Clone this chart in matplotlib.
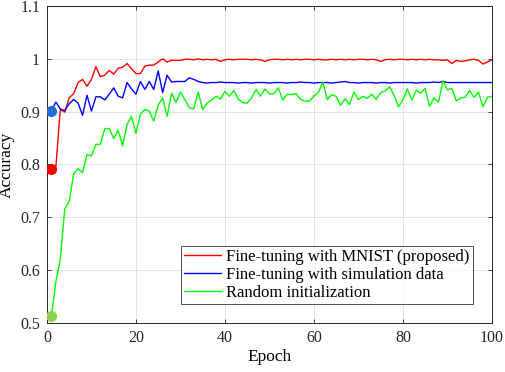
import numpy as np
import matplotlib
matplotlib.use("Agg")
import matplotlib.pyplot as plt

plt.rcParams['font.family'] = ['Liberation Serif', 'DejaVu Serif']

# accuracy per epoch
epochs = np.arange(1, 101)

acc_mnist = [
    0.792, 0.795, 0.904, 0.899, 0.926, 0.934, 0.955, 0.961, 0.948, 0.961,
    0.985, 0.966, 0.969, 0.978, 0.971, 0.982, 0.984, 0.991, 0.981, 0.972,
    0.972, 0.986, 0.988, 0.988, 0.994, 1.000, 0.994, 0.997, 0.997, 0.997,
    0.999, 0.999, 0.998, 1.000, 0.998, 0.999, 0.998, 0.999, 0.995, 0.998,
    0.999, 0.998, 0.999, 0.999, 0.999, 0.998, 0.999, 0.998, 0.995, 0.998,
    0.999, 0.999, 0.998, 0.999, 0.998, 0.999, 0.998, 0.999, 0.999, 0.998,
    0.999, 0.998, 0.998, 0.999, 0.998, 0.999, 0.998, 0.999, 0.998, 0.999,
    0.999, 0.998, 0.999, 0.998, 0.995, 0.998, 0.999, 0.998, 0.999, 0.999,
    0.998, 0.999, 0.998, 0.999, 0.998, 0.999, 0.998, 0.998, 0.997, 0.998,
    0.991, 0.997, 0.995, 0.996, 0.998, 0.999, 0.997, 0.990, 0.994, 0.998,
]

acc_sim = [
    0.902, 0.918, 0.905, 0.902, 0.915, 0.923, 0.916, 0.893, 0.931, 0.901,
    0.928, 0.928, 0.922, 0.933, 0.945, 0.929, 0.926, 0.955, 0.943, 0.933,
    0.957, 0.942, 0.957, 0.942, 0.977, 0.936, 0.969, 0.956, 0.957, 0.957,
    0.957, 0.964, 0.961, 0.957, 0.955, 0.954, 0.955, 0.955, 0.956, 0.955,
    0.955, 0.955, 0.954, 0.955, 0.955, 0.954, 0.955, 0.955, 0.955, 0.954,
    0.955, 0.955, 0.955, 0.954, 0.955, 0.955, 0.956, 0.955, 0.955, 0.954,
    0.955, 0.955, 0.955, 0.954, 0.955, 0.956, 0.957, 0.955, 0.955, 0.954,
    0.955, 0.955, 0.955, 0.954, 0.955, 0.955, 0.954, 0.955, 0.955, 0.955,
    0.955, 0.955, 0.954, 0.955, 0.955, 0.955, 0.956, 0.955, 0.957, 0.955,
    0.955, 0.955, 0.955, 0.955, 0.955, 0.955, 0.955, 0.955, 0.955, 0.955,
]

acc_random = [
    0.513, 0.578, 0.620, 0.716, 0.730, 0.782, 0.792, 0.784, 0.819, 0.816,
    0.838, 0.838, 0.868, 0.868, 0.849, 0.865, 0.835, 0.876, 0.891, 0.859,
    0.895, 0.904, 0.901, 0.882, 0.912, 0.926, 0.891, 0.935, 0.917, 0.937,
    0.923, 0.907, 0.905, 0.937, 0.904, 0.916, 0.922, 0.929, 0.924, 0.938,
    0.929, 0.940, 0.924, 0.917, 0.916, 0.926, 0.942, 0.929, 0.943, 0.933,
    0.934, 0.945, 0.922, 0.933, 0.932, 0.934, 0.923, 0.920, 0.920, 0.929,
    0.936, 0.956, 0.923, 0.932, 0.929, 0.912, 0.924, 0.913, 0.937, 0.923,
    0.929, 0.925, 0.933, 0.923, 0.936, 0.939, 0.947, 0.931, 0.909, 0.922,
    0.943, 0.922, 0.940, 0.935, 0.944, 0.910, 0.926, 0.918, 0.958, 0.941,
    0.944, 0.920, 0.926, 0.927, 0.940, 0.927, 0.937, 0.909, 0.927, 0.929,
]

labels = ["Fine-tuning with MNIST (proposed)",
          "Fine-tuning with simulation data",
          "Random initialization"]

fig = plt.figure(figsize=(5.05, 3.72), dpi=100)
ax = fig.add_axes([0.093, 0.132, 0.881, 0.852])

ax.plot(epochs, acc_mnist, color='#ff0000', lw=1.0, label=labels[0])
ax.plot(epochs, acc_sim, color='#0000ff', lw=1.0, label=labels[1])
ax.plot(epochs, acc_random, color='#00ff00', lw=1.0, label=labels[2])

# starting points
ax.plot(epochs[0], acc_mnist[0], 'o', color='#ff0000', ms=7, zorder=5)
ax.plot(epochs[0], acc_sim[0], 'o', color='#1f6fd6', ms=7, zorder=5)
ax.plot(epochs[0], acc_random[0], 'o', color='#8fd14f', ms=7, zorder=5)

ax.set_xlim(0, 100)
ax.set_ylim(0.5, 1.1)
ax.set_xticks([0, 20, 40, 60, 80, 100])
ax.set_yticks([0.5, 0.6, 0.7, 0.8, 0.9, 1.0, 1.1])
ax.set_yticklabels(["0.5", "0.6", "0.7", "0.8", "0.9", "1", "1.1"])
ax.tick_params(direction='in', top=True, right=True, labelsize=11.5,
               length=3, width=0.6, colors='#262626', pad=5)
ax.grid(True, color='#e3e3e3', lw=0.7)
ax.set_axisbelow(True)
for s in ax.spines.values():
    s.set_color('#262626')
    s.set_linewidth(0.7)

ax.set_xlabel("Epoch", fontsize=12.5, labelpad=2)
ax.set_ylabel("Accuracy", fontsize=12.5)
ax.yaxis.set_label_coords(-0.072, 0.5)

leg = ax.legend(loc='lower right', bbox_to_anchor=(0.957, 0.06), fontsize=12,
                frameon=True, fancybox=False, edgecolor='#262626',
                handlelength=2.2, handletextpad=0.3, borderpad=0.2,
                labelspacing=0.1, borderaxespad=0)
leg.get_frame().set_linewidth(0.7)

fig.savefig("out.png", dpi=100)
